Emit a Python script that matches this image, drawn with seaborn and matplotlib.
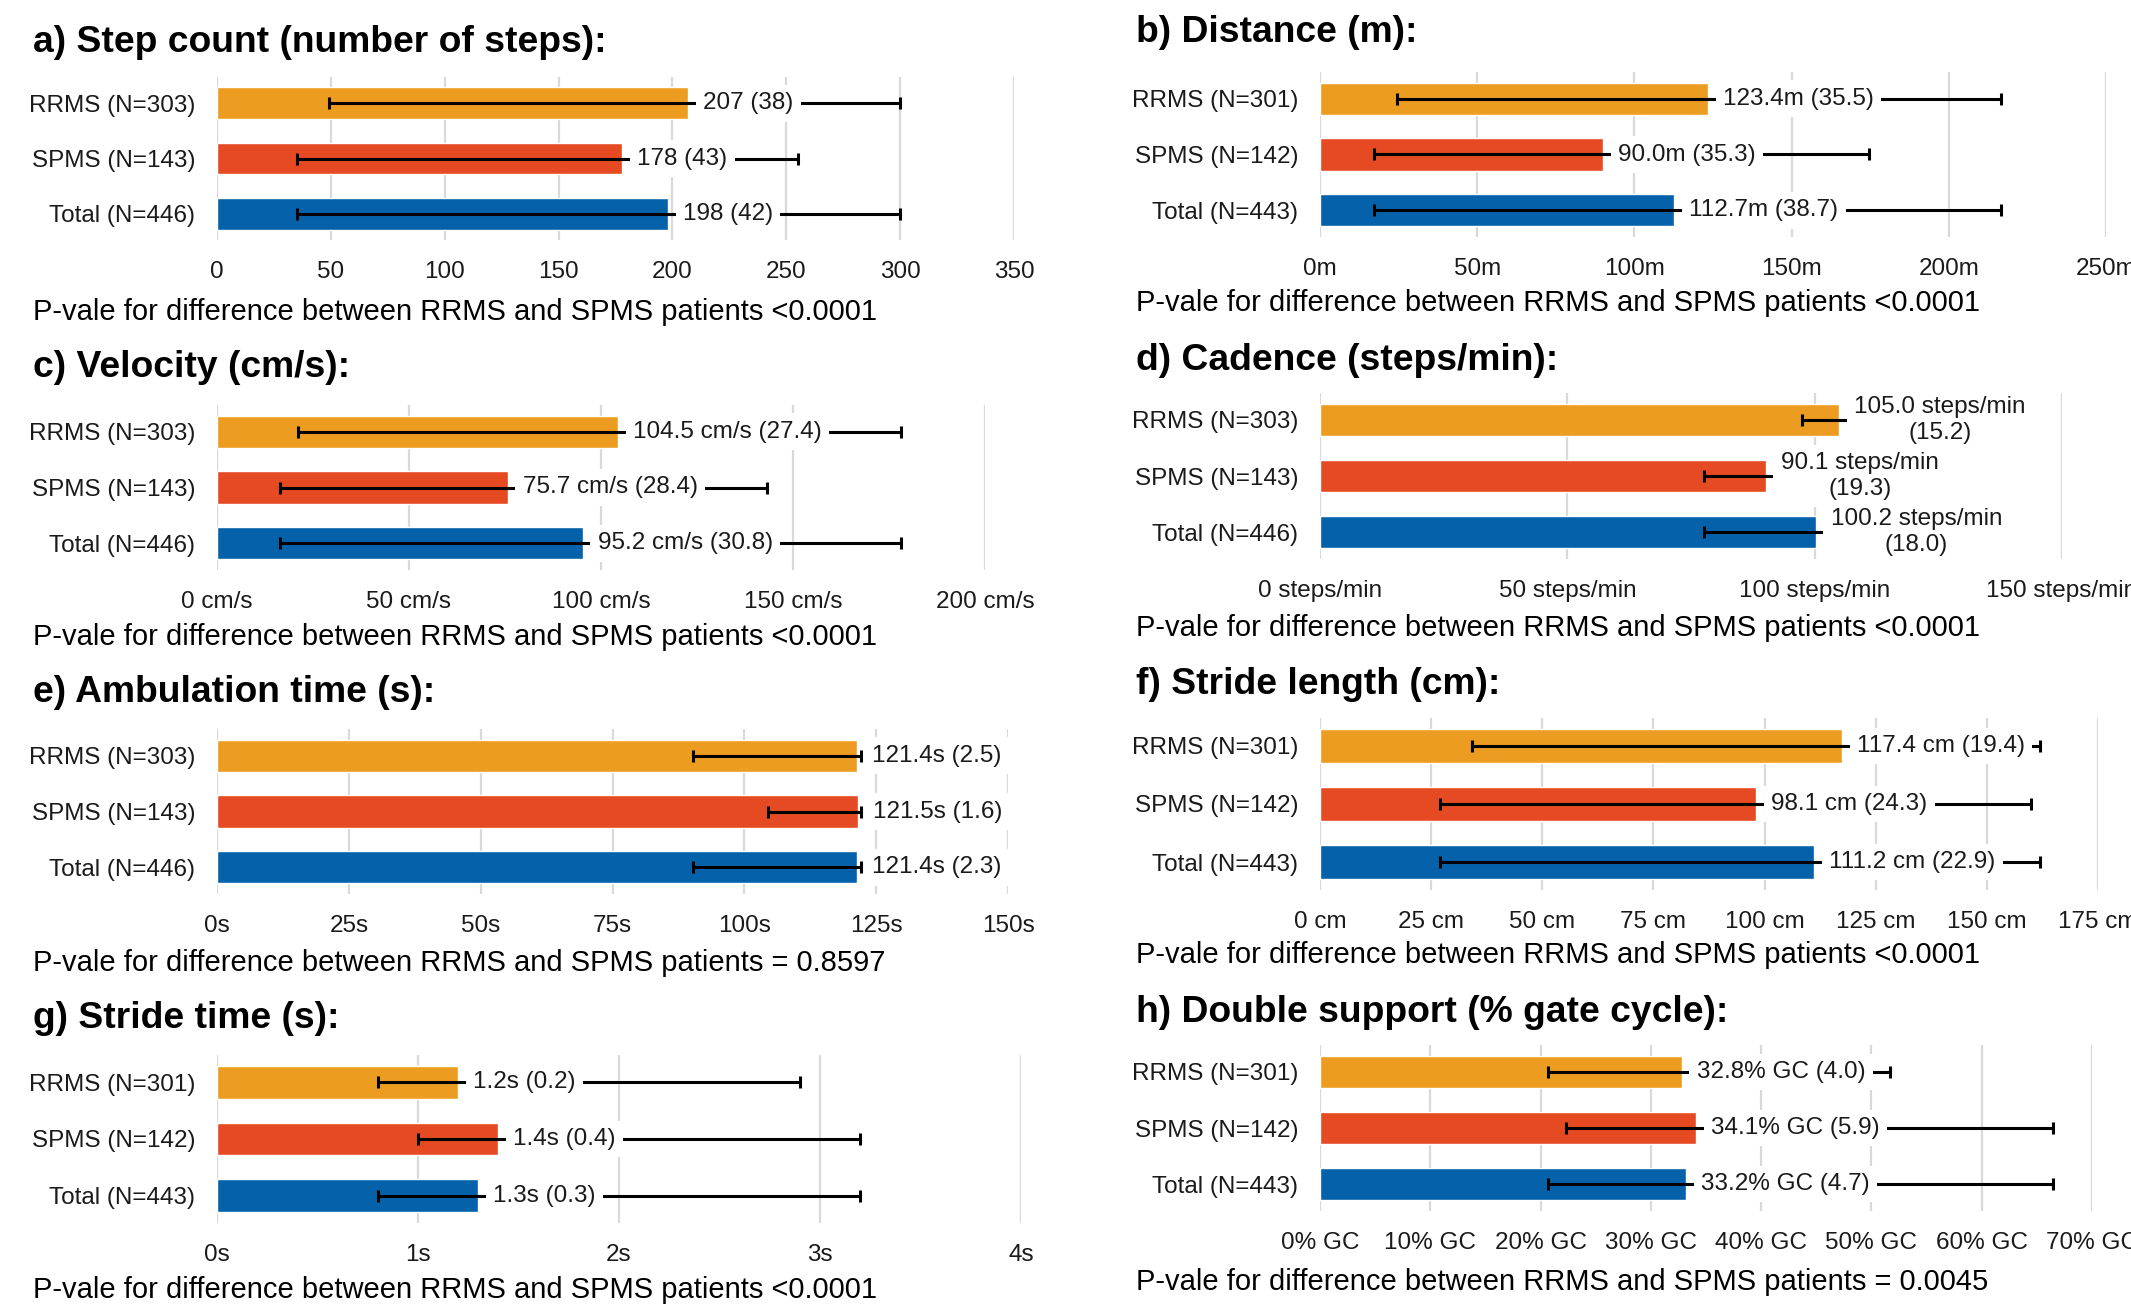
import numpy as np
import pandas as pd
import matplotlib
matplotlib.use("Agg")
import matplotlib.pyplot as plt
import seaborn as sns

# ---- data -------------------------------------------------------------
groups_303 = ["RRMS (N=303)", "SPMS (N=143)", "Total (N=446)"]
groups_301 = ["RRMS (N=301)", "SPMS (N=142)", "Total (N=443)"]
bar_colors = ["#EC9C20", "#E64A22", "#0562AA"]

step_mean = [207, 178, 198]
step_sd = [38, 43, 42]
step_lo = [49, 35, 35]
step_hi = [300, 255, 300]

dist_mean = [123.4, 90.0, 112.7]
dist_sd = [35.5, 35.3, 38.7]
dist_lo = [24.6, 17.3, 17.3]
dist_hi = [216.7, 174.6, 216.7]

vel_mean = [104.5, 75.7, 95.2]
vel_sd = [27.4, 28.4, 30.8]
vel_lo = [21.2, 16.3, 16.3]
vel_hi = [178.2, 143.2, 178.2]

cad_mean = [105.0, 90.1, 100.2]
cad_sd = [15.2, 19.3, 18.0]
cad_lo = [97.4, 77.6, 77.6]
cad_hi = [125.0, 115.0, 125.0]

amb_mean = [121.4, 121.5, 121.4]
amb_sd = [2.5, 1.6, 2.3]
amb_lo = [90.3, 104.4, 90.3]
amb_hi = [122.1, 122.1, 122.1]

slen_mean = [117.4, 98.1, 111.2]
slen_sd = [19.4, 24.3, 22.9]
slen_lo = [34.1, 26.9, 26.9]
slen_hi = [161.9, 160.0, 161.9]

stime_mean = [1.2, 1.4, 1.3]
stime_sd = [0.2, 0.4, 0.3]
stime_lo = [0.80, 1.00, 0.80]
stime_hi = [2.90, 3.20, 3.20]

dsup_mean = [32.8, 34.1, 33.2]
dsup_sd = [4.0, 5.9, 4.7]
dsup_lo = [20.7, 22.3, 20.7]
dsup_hi = [51.7, 66.5, 66.5]

titles = [
    "a) Step count (number of steps):",
    "b) Distance (m):",
    "c) Velocity (cm/s):",
    "d) Cadence (steps/min):",
    "e) Ambulation time (s):",
    "f) Stride length (cm):",
    "g) Stride time (s):",
    "h) Double support (% gate cycle):",
]
pvalues = ["<0.0001", "<0.0001", "<0.0001", "<0.0001",
           "= 0.8597", "<0.0001", "<0.0001", "= 0.0045"]

x_ticks = [
    [0, 50, 100, 150, 200, 250, 300, 350],
    [0, 50, 100, 150, 200, 250],
    [0, 50, 100, 150, 200],
    [0, 50, 100, 150],
    [0, 25, 50, 75, 100, 125, 150],
    [0, 25, 50, 75, 100, 125, 150, 175],
    [0, 1, 2, 3, 4],
    [0, 10, 20, 30, 40, 50, 60, 70],
]
tick_fmt = ["{:g}", "{:g}m", "{:g} cm/s", "{:g} steps/min",
            "{:g}s", "{:g} cm", "{:g}s", "{:g}% GC"]
label_fmt = ["{m:.0f} ({s:.0f})", "{m:.1f}m ({s:.1f})", "{m:.1f} cm/s ({s:.1f})",
             "{m:.1f} steps/min\n({s:.1f})", "{m:.1f}s ({s:.1f})",
             "{m:.1f} cm ({s:.1f})", "{m:.1f}s ({s:.1f})", "{m:.1f}% GC ({s:.1f})"]

panels = [
    (groups_303, step_mean, step_sd, step_lo, step_hi),
    (groups_301, dist_mean, dist_sd, dist_lo, dist_hi),
    (groups_303, vel_mean, vel_sd, vel_lo, vel_hi),
    (groups_303, cad_mean, cad_sd, cad_lo, cad_hi),
    (groups_303, amb_mean, amb_sd, amb_lo, amb_hi),
    (groups_301, slen_mean, slen_sd, slen_lo, slen_hi),
    (groups_301, stime_mean, stime_sd, stime_lo, stime_hi),
    (groups_301, dsup_mean, dsup_sd, dsup_lo, dsup_hi),
]

# ---- layout (pixel boxes: left, right, top, bottom) -------------------
W, H = 2131, 1304
boxes = [
    (217, 1014, 77, 240), (1320, 2106, 72, 237),
    (217, 985, 405, 570), (1320, 2062, 393, 559),
    (217, 1008, 729, 894), (1320, 2098, 718, 890),
    (217, 1021, 1055, 1223), (1320, 2092, 1045, 1211),
]
title_pos = [(33, 42), (1136, 33), (33, 368), (1136, 360),
             (33, 693), (1136, 685), (33, 1018), (1136, 1012)]
pval_pos = [(33, 312), (1136, 303), (33, 637), (1136, 628),
            (33, 963), (1136, 955), (33, 1290), (1136, 1282)]

sns.set_theme(style="white")
plt.rcParams["font.family"] = ["Liberation Sans", "DejaVu Sans"]

fig = plt.figure(figsize=(W / 100, H / 100), dpi=100)
fig.patch.set_facecolor("white")

FS = 17.5

for i, (groups, mean, sd, lo, hi) in enumerate(panels):
    l, r, t, b = boxes[i]
    ax = fig.add_axes([l / W, 1 - b / H, (r - l) / W, (b - t) / H])
    df = pd.DataFrame({"group": groups, "value": mean})
    sns.barplot(data=df, x="value", y="group", hue="group", palette=bar_colors,
                orient="h", width=0.58, saturation=1, legend=False, ax=ax,
                zorder=2)
    mean_a = np.array(mean, dtype=float)
    ypos = np.arange(len(groups))
    ax.errorbar(mean_a, ypos,
                xerr=[mean_a - np.array(lo), np.array(hi) - mean_a],
                fmt="none", ecolor="black", elinewidth=2.2, capsize=4.3,
                capthick=2.2, zorder=3)
    for y, m, s in zip(ypos, mean, sd):
        txt = label_fmt[i].format(m=m, s=s)
        ax.annotate(txt, xy=(m, y), xytext=(10.8, 0), textcoords="offset points",
                    ha="left", va="center", multialignment="center",
                    fontsize=FS, color="#1a1a1a", linespacing=1.25, zorder=4,
                    bbox=dict(boxstyle="square,pad=0.3", fc="white", ec="none"))
    ticks = x_ticks[i]
    ax.set_xlim(0, ticks[-1])
    ax.set_xticks(ticks)
    ax.set_xticklabels([tick_fmt[i].format(v) for v in ticks])
    ax.set_ylim(2.48, -0.48)
    ax.set_xlabel("")
    ax.set_ylabel("")
    ax.grid(axis="x", color="#D9D9D9", linewidth=1.6)
    ax.grid(axis="y", visible=False)
    ax.set_axisbelow(True)
    for sp in ax.spines.values():
        sp.set_visible(False)
    ax.tick_params(axis="x", length=0, pad=15, labelsize=FS, labelcolor="#1a1a1a")
    ax.tick_params(axis="y", length=0, pad=15.5, labelsize=FS, labelcolor="#1a1a1a")
    ax.set_facecolor("none")

    tx, ty = title_pos[i]
    fig.text(tx / W, 1 - ty / H, titles[i], fontsize=26.8, fontweight="bold",
             ha="left", va="center", color="black")
    px, py = pval_pos[i]
    fig.text(px / W, 1 - py / H,
             "P-vale for difference between RRMS and SPMS patients " + pvalues[i],
             fontsize=21, ha="left", va="center", color="black")

fig.savefig("out.png", dpi=100, facecolor="white")
